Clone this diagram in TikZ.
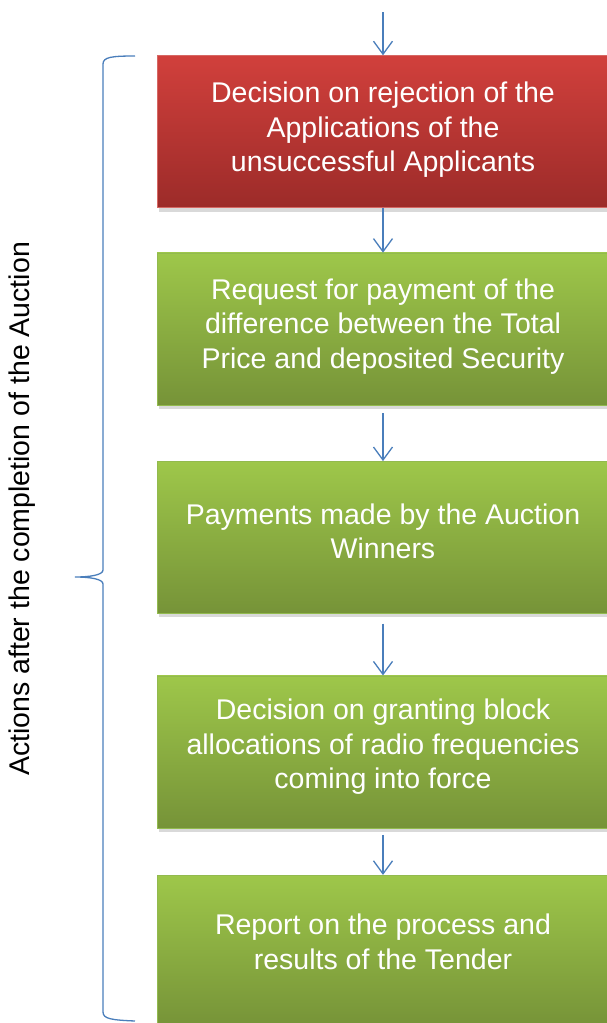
\documentclass[tikz,border=0pt]{standalone}
\usepackage{fontspec}
\setmainfont{Liberation Sans}
\usetikzlibrary{positioning,arrows.meta,shadows}
\definecolor{flowblue}{RGB}{74,126,187}
\definecolor{redtop}{RGB}{209,64,60}
\definecolor{redbot}{RGB}{156,43,41}
\definecolor{redline}{RGB}{214,104,100}
\definecolor{greentop}{RGB}{158,199,74}
\definecolor{greenbot}{RGB}{118,147,56}
\definecolor{greenline}{RGB}{146,186,78}
\tikzset{
    stage-box/.style = {rectangle, minimum width=452pt, minimum height=152pt, inner sep=0pt, align=center, text=white, font=\fontsize{28.5}{34.5}\selectfont, drop shadow={shadow xshift=1.5pt, shadow yshift=-4pt, opacity=0.3}},
    red-box/.style = {stage-box, draw=redline, top color=redtop, bottom color=redbot},
    green-box/.style = {stage-box, draw=greenline, top color=greentop, bottom color=greenbot},
    flow/.style = {draw=flowblue, line width=1.3pt, -{Straight Barb[length=13pt,width=19pt]}},
}

\begin{document}
\begin{tikzpicture}[x=1pt, y=-1pt]
\useasboundingbox (0,0) rectangle (607,1023);

\node [red-box, text depth=9pt] (reject) at (383,131.5) {Decision on rejection of the\\Applications of the\\unsuccessful Applicants};
\node [green-box, text depth=11pt, below=45pt of reject] (request) {Request for payment of the\\difference between the Total\\Price and deposited Security};
\node [green-box, text depth=12pt, below=56pt of request] (payments) {Payments made by the Auction\\Winners};
\node [green-box, text depth=16pt, below=62pt of payments] (granting) {Decision on granting block\\allocations of radio frequencies\\coming into force};
\node [green-box, text depth=19pt, below=47pt of granting] (report) {Report on the process and\\results of the Tender};

\coordinate (start) at (383,12);
\draw [flow] (start) -- (reject.north);
\draw [flow] (reject.south) -- (request.north);
\draw [flow, shorten <=8pt] (request.south) -- (payments.north);
\draw [flow, shorten <=10pt] (payments.south) -- (granting.north);
\draw [flow, shorten <=7pt] (granting.south) -- (report.north);

% brace on the left
\draw [flowblue, line width=1.3pt] (135,56) .. controls (112,56) and (103,57) .. (103,64) -- (103,570) .. controls (103,575) and (90,577) .. (75,577) .. controls (90,577) and (103,579) .. (103,584) -- (103,1012) .. controls (103,1019) and (112,1020) .. (135,1021);
\node [rotate=90, font=\fontsize{28.5}{35}\selectfont] (actions) at (22,509) {Actions after the completion of the Auction};
\end{tikzpicture}
\end{document}
